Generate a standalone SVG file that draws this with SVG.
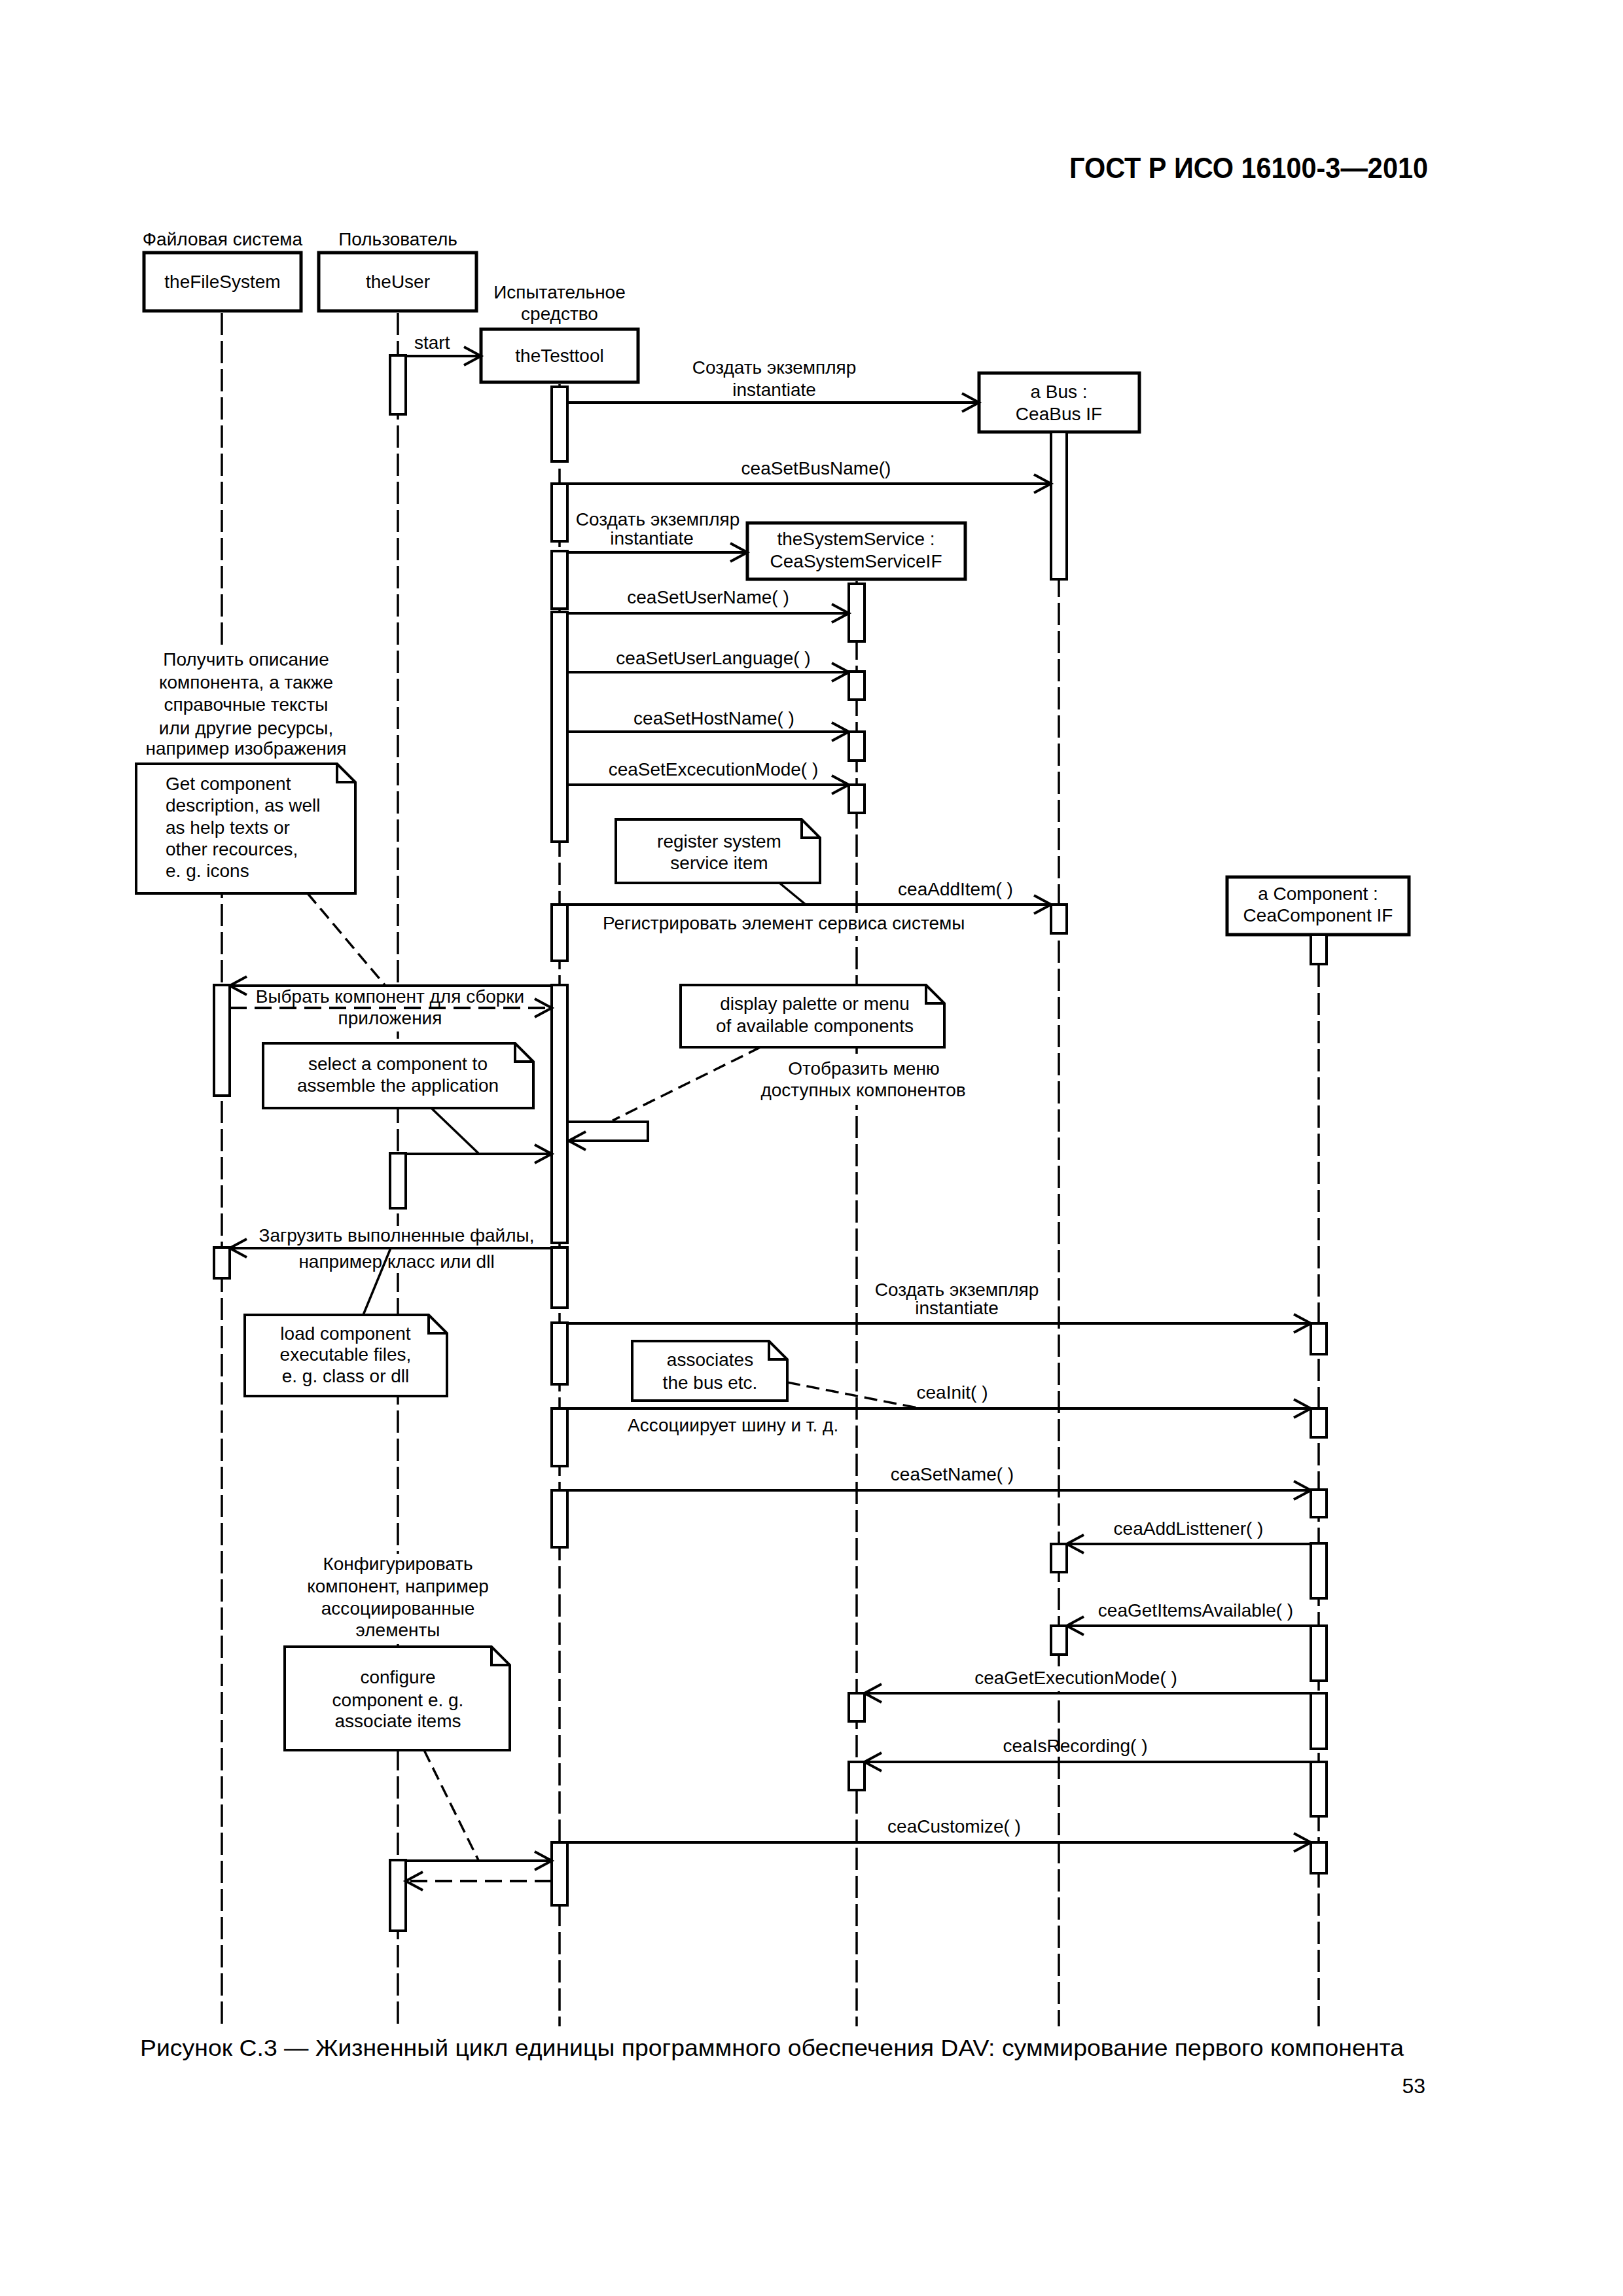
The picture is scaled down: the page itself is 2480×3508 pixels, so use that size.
<svg xmlns="http://www.w3.org/2000/svg" width="2480" height="3508" viewBox="0 0 2480 3508">
<defs>
<style>
text { font-family: "Liberation Sans", Arial, sans-serif; font-size: 28px; fill: #000; }
.c { text-anchor: middle; }
.title { font-size: 44px; font-weight: bold; text-anchor: end; }
.cap { font-size: 35px; }
.box { fill: #fff; stroke: #000; stroke-width: 5; }
.act { fill: #fff; stroke: #000; stroke-width: 4; }
.life { fill: none; stroke: #000; stroke-width: 3.5; stroke-dasharray: 34 9; }
.msg { fill: none; stroke: #000; stroke-width: 4; marker-end: url(#arr); }
.ret { stroke-dasharray: 26 12; }
.note { fill: #fff; stroke: #000; stroke-width: 4; stroke-linejoin: miter; }
.fold { fill: none; stroke: #000; stroke-width: 4; }
.anc { fill: none; stroke: #000; stroke-width: 3.5; }
.dsh { stroke-dasharray: 20 10; }
.mask { fill: #fff; stroke: none; }
</style>
<marker id="arr" markerUnits="userSpaceOnUse" markerWidth="36" markerHeight="38" viewBox="-5 -5 36 38" refX="26" refY="14" orient="auto">
<path d="M0,0 L26,14 L0,28" fill="none" stroke="#000" stroke-width="4"/>
</marker>
</defs>
<rect width="2480" height="3508" fill="#fff"/>
<text class="title" x="2182" y="272" textLength="548" lengthAdjust="spacingAndGlyphs">ГОСТ Р ИСО 16100-3—2010</text>

<g id="node-theFileSystem">
<text class="c" x="340" y="375">Файловая система</text>
<line class="life" x1="339" y1="478" x2="339" y2="3096"/>
<rect class="box" x="220" y="386" width="240" height="89"/>
<text class="c" x="340" y="440">theFileSystem</text>
<rect class="act" x="327" y="1505" width="24" height="169"/>
<rect class="act" x="327" y="1906" width="24" height="47"/>
</g>

<g id="node-theUser">
<text class="c" x="608" y="375">Пользователь</text>
<line class="life" x1="608" y1="478" x2="608" y2="3096"/>
<rect class="box" x="487" y="386" width="241" height="89"/>
<text class="c" x="608" y="440">theUser</text>
<rect class="act" x="596" y="543" width="24" height="90"/>
<rect class="act" x="596" y="1762" width="24" height="84"/>
<rect class="act" x="596" y="2842" width="24" height="108"/>
</g>

<g id="node-theTesttool">
<text class="c" x="855" y="456">Испытательное</text>
<text class="c" x="855" y="489">средство</text>
<line class="life" x1="855" y1="587" x2="855" y2="3096"/>
<rect class="box" x="735" y="503" width="240" height="81"/>
<text class="c" x="855" y="553">theTesttool</text>
<rect class="act" x="843" y="591" width="24" height="114"/>
<rect class="act" x="843" y="739" width="24" height="88"/>
<rect class="act" x="843" y="842" width="24" height="88"/>
<rect class="act" x="843" y="935" width="24" height="351"/>
<rect class="act" x="843" y="1382" width="24" height="86"/>
<rect class="act" x="843" y="1505" width="24" height="394"/>
<rect class="act" x="843" y="1906" width="24" height="92"/>
<rect class="act" x="843" y="2021" width="24" height="94"/>
<rect class="act" x="843" y="2152" width="24" height="88"/>
<rect class="act" x="843" y="2277" width="24" height="87"/>
<rect class="act" x="843" y="2815" width="24" height="96"/>
</g>

<g id="node-aBus">
<line class="life" x1="1618" y1="663" x2="1618" y2="3096"/>
<rect class="box" x="1496" y="570" width="245" height="90"/>
<text class="c" x="1618" y="608">a Bus :</text>
<text class="c" x="1618" y="642">CeaBus IF</text>
<rect class="act" x="1606" y="660" width="24" height="225"/>
<rect class="act" x="1606" y="1382" width="24" height="44"/>
<rect class="act" x="1606" y="2359" width="24" height="43"/>
<rect class="act" x="1606" y="2484" width="24" height="44"/>
</g>

<g id="node-theSystemService">
<line class="life" x1="1309" y1="888" x2="1309" y2="3096"/>
<rect class="box" x="1142" y="799" width="333" height="86"/>
<text class="c" x="1308" y="833">theSystemService :</text>
<text class="c" x="1308" y="867">CeaSystemServiceIF</text>
<rect class="act" x="1297" y="892" width="24" height="88"/>
<rect class="act" x="1297" y="1026" width="24" height="43"/>
<rect class="act" x="1297" y="1118" width="24" height="44"/>
<rect class="act" x="1297" y="1199" width="24" height="43"/>
<rect class="act" x="1297" y="2587" width="24" height="43"/>
<rect class="act" x="1297" y="2692" width="24" height="43"/>
</g>

<g id="node-aComponent">
<line class="life" x1="2015" y1="1431" x2="2015" y2="3096"/>
<rect class="box" x="1875" y="1340" width="278" height="88"/>
<text class="c" x="2014" y="1375">a Component :</text>
<text class="c" x="2014" y="1408">CeaComponent IF</text>
<rect class="act" x="2003" y="1428" width="24" height="45"/>
<rect class="act" x="2003" y="2022" width="24" height="47"/>
<rect class="act" x="2003" y="2152" width="24" height="44"/>
<rect class="act" x="2003" y="2276" width="24" height="42"/>
<rect class="act" x="2003" y="2358" width="24" height="84"/>
<rect class="act" x="2003" y="2484" width="24" height="84"/>
<rect class="act" x="2003" y="2587" width="24" height="85"/>
<rect class="act" x="2003" y="2692" width="24" height="83"/>
<rect class="act" x="2003" y="2815" width="24" height="47"/>
</g>

<g id="label-gaps">
<rect class="mask" x="214" y="992" width="326" height="172"/>
<rect class="mask" x="597" y="2374" width="22" height="138"/>
<rect class="mask" x="597" y="1510" width="22" height="66"/>
<rect class="mask" x="597" y="1873" width="22" height="72"/>
<rect class="mask" x="1298" y="1614" width="22" height="74"/>
<rect class="mask" x="1298" y="1396" width="22" height="34"/>
<rect class="mask" x="1607" y="2546" width="22" height="38"/>
</g>

<g id="connectors">
<line class="msg" x1="620" y1="544" x2="735" y2="544"/>
<text x="633" y="533">start</text>

<line class="msg" x1="867" y1="615" x2="1496" y2="615"/>
<text class="c" x="1183" y="571">Создать экземпляр</text>
<text class="c" x="1183" y="605">instantiate</text>

<line class="msg" x1="867" y1="739" x2="1606" y2="739"/>
<text class="c" x="1247" y="725">ceaSetBusName()</text>

<line class="msg" x1="867" y1="844" x2="1142" y2="844"/>
<text class="c" x="1005" y="803">Создать экземпляр</text>
<text class="c" x="996" y="832">instantiate</text>

<line class="msg" x1="867" y1="937" x2="1297" y2="937"/>
<text class="c" x="1082" y="922">ceaSetUserName( )</text>

<line class="msg" x1="867" y1="1027" x2="1297" y2="1027"/>
<text class="c" x="1090" y="1015">ceaSetUserLanguage( )</text>

<line class="msg" x1="867" y1="1118" x2="1297" y2="1118"/>
<text class="c" x="1091" y="1107">ceaSetHostName( )</text>

<line class="msg" x1="867" y1="1199" x2="1297" y2="1199"/>
<text class="c" x="1090" y="1185">ceaSetExcecutionMode( )</text>

<line class="msg" x1="867" y1="1382" x2="1606" y2="1382"/>
<text class="c" x="1460" y="1368">ceaAddItem( )</text>
<text x="921" y="1420">Регистрировать элемент сервиса системы</text>

<line class="msg" x1="843" y1="1506" x2="351" y2="1506"/>
<line class="msg ret" x1="351" y1="1540" x2="843" y2="1540"/>
<text class="c" x="596" y="1532">Выбрать компонент для сборки</text>
<text class="c" x="596" y="1565">приложения</text>

<path class="msg" d="M867,1714 H990 V1743 H869"/>
<text class="c" x="1320" y="1642">Отобразить меню</text>
<text class="c" x="1319" y="1675">доступных компонентов</text>

<line class="msg" x1="620" y1="1763" x2="843" y2="1763"/>

<line class="msg" x1="843" y1="1907" x2="351" y2="1907"/>
<text class="c" x="606" y="1897">Загрузить выполненные файлы,</text>
<text class="c" x="606" y="1937">например класс или dll</text>

<line class="msg" x1="867" y1="2022" x2="2003" y2="2022"/>
<text class="c" x="1462" y="1980">Создать экземпляр</text>
<text class="c" x="1462" y="2008">instantiate</text>

<line class="msg" x1="867" y1="2152" x2="2003" y2="2152"/>
<text class="c" x="1455" y="2137">ceaInit( )</text>
<text x="959" y="2187">Ассоциирует шину и т. д.</text>

<line class="msg" x1="867" y1="2277" x2="2003" y2="2277"/>
<text class="c" x="1455" y="2262">ceaSetName( )</text>

<line class="msg" x1="2003" y1="2359" x2="1630" y2="2359"/>
<text class="c" x="1816" y="2345">ceaAddListtener( )</text>

<line class="msg" x1="2003" y1="2484" x2="1630" y2="2484"/>
<text class="c" x="1827" y="2470">ceaGetItemsAvailable( )</text>

<line class="msg" x1="2003" y1="2587" x2="1321" y2="2587"/>
<text class="c" x="1644" y="2573">ceaGetExecutionMode( )</text>

<line class="msg" x1="2003" y1="2692" x2="1321" y2="2692"/>
<text class="c" x="1643" y="2677">ceaIsRecording( )</text>

<line class="msg" x1="867" y1="2815" x2="2003" y2="2815"/>
<text class="c" x="1458" y="2800">ceaCustomize( )</text>

<line class="msg" x1="620" y1="2843" x2="843" y2="2843"/>
<line class="msg ret" x1="843" y1="2874" x2="620" y2="2874"/>

<line class="anc dsh" x1="470" y1="1365" x2="588" y2="1505"/>
<line class="anc" x1="1191" y1="1349" x2="1231" y2="1382"/>
<line class="anc dsh" x1="1162" y1="1600" x2="936" y2="1712"/>
<line class="anc" x1="659" y1="1693" x2="731" y2="1762"/>
<line class="anc" x1="555" y1="2009" x2="597" y2="1907"/>
<line class="anc dsh" x1="1203" y1="2112" x2="1402" y2="2151"/>
<line class="anc dsh" x1="648" y1="2674" x2="731" y2="2842"/>
</g>

<g id="note-getComponent">
<text class="c" x="376" y="1017">Получить описание</text>
<text class="c" x="376" y="1052">компонента, а также</text>
<text class="c" x="376" y="1086">справочные тексты</text>
<text class="c" x="376" y="1122">или другие ресурсы,</text>
<text class="c" x="376" y="1153">например изображения</text>
<path class="note" d="M208,1167 H515 L543,1195 V1365 H208 Z"/>
<path class="fold" d="M515,1167 V1195 H543"/>
<text x="253" y="1207">Get component</text>
<text x="253" y="1240">description, as well</text>
<text x="253" y="1274">as help texts or</text>
<text x="253" y="1307">other recources,</text>
<text x="253" y="1340">e. g. icons</text>
</g>

<g id="note-register">
<path class="note" d="M941,1252 H1225 L1253,1280 V1349 H941 Z"/>
<path class="fold" d="M1225,1252 V1280 H1253"/>
<text class="c" x="1099" y="1295">register system</text>
<text class="c" x="1099" y="1328">service item</text>
</g>

<g id="note-display">
<path class="note" d="M1040,1505 H1415 L1443,1533 V1600 H1040 Z"/>
<path class="fold" d="M1415,1505 V1533 H1443"/>
<text class="c" x="1245" y="1543">display palette or menu</text>
<text class="c" x="1245" y="1577">of available components</text>
</g>

<g id="note-select">
<path class="note" d="M402,1594 H787 L815,1622 V1693 H402 Z"/>
<path class="fold" d="M787,1594 V1622 H815"/>
<text class="c" x="608" y="1635">select a component to</text>
<text class="c" x="608" y="1668">assemble the application</text>
</g>

<g id="note-load">
<path class="note" d="M374,2009 H655 L683,2037 V2133 H374 Z"/>
<path class="fold" d="M655,2009 V2037 H683"/>
<text class="c" x="528" y="2047">load component</text>
<text class="c" x="528" y="2079">executable files,</text>
<text class="c" x="528" y="2112">e. g. class or dll</text>
</g>

<g id="note-associates">
<path class="note" d="M966,2049 H1175 L1203,2077 V2140 H966 Z"/>
<path class="fold" d="M1175,2049 V2077 H1203"/>
<text class="c" x="1085" y="2087">associates</text>
<text class="c" x="1085" y="2122">the bus etc.</text>
</g>

<g id="note-configure">
<text class="c" x="608" y="2399">Конфигурировать</text>
<text class="c" x="608" y="2433">компонент, например</text>
<text class="c" x="608" y="2467">ассоциированные</text>
<text class="c" x="608" y="2500">элементы</text>
<path class="note" d="M435,2516 H751 L779,2544 V2674 H435 Z"/>
<path class="fold" d="M751,2516 V2544 H779"/>
<text class="c" x="608" y="2572">configure</text>
<text class="c" x="608" y="2607">component e. g.</text>
<text class="c" x="608" y="2639">associate items</text>
</g>

<text class="cap" x="214" y="3141" textLength="1931" lengthAdjust="spacingAndGlyphs">Рисунок С.3 — Жизненный цикл единицы программного обеспечения DAV: суммирование первого компонента</text>
<text x="2178" y="3198" text-anchor="end" style="font-size:32px">53</text>
</svg>
